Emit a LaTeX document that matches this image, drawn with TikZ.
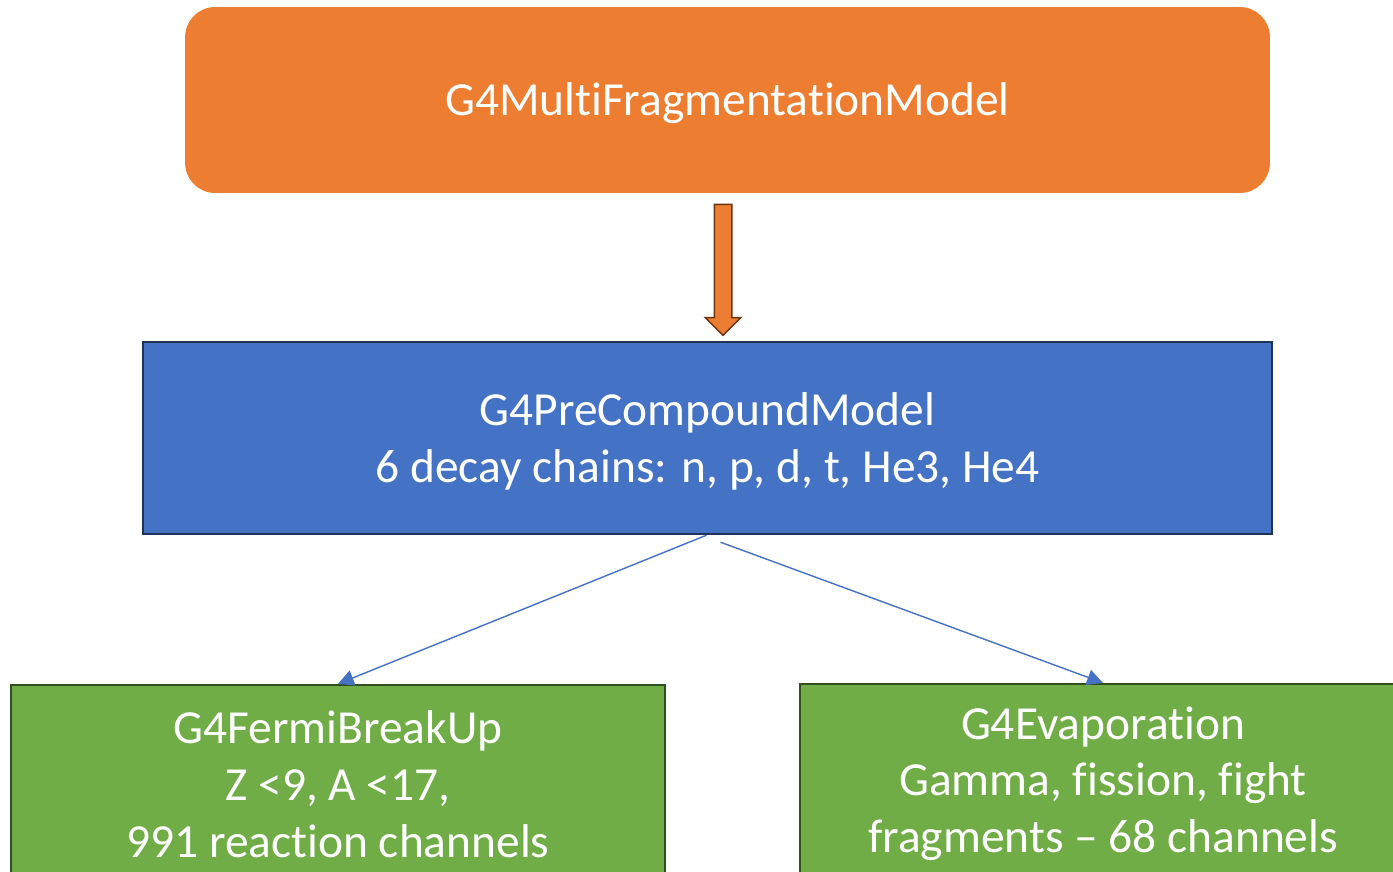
\documentclass[tikz,border=0pt]{standalone}
\usepackage{fontspec}
\setmainfont{Carlito}[RawFeature={-liga;-clig;-calt;-dlig}]
\usetikzlibrary{shapes.arrows,arrows.meta,calc}

\definecolor{modelorange}{HTML}{ED7D31}
\definecolor{arrowbrown}{HTML}{6B3410}
\definecolor{precblue}{HTML}{4472C4}
\definecolor{precborder}{HTML}{1F3356}
\definecolor{stagegreen}{HTML}{70AD47}
\definecolor{stageborder}{HTML}{2F4F1E}

% a little extra room above the first line, as the slides set it
\newcommand\linelift{\rule{0pt}{0.8cm}}

\tikzset{
  modelbox/.style={text=white, align=center, inner sep=0pt,
    font=\fontsize{27}{32.4}\selectfont},
  stagebox/.style={modelbox, fill=stagegreen, draw=stageborder, line width=1.3pt,
    minimum height=3.84cm},
  split/.style={draw=precblue, line width=0.8pt, -{Triangle[length=9pt,width=9pt]}}
}

\begin{document}
\begin{tikzpicture}[x=0.02cm,y=-0.02cm]
    \useasboundingbox (0,0) rectangle (1393,872);
    \clip (0,0) rectangle (1393,872);

    \node [modelbox, fill=modelorange, rounded corners=0.6cm,
      minimum width=21.7cm, minimum height=3.72cm] (mfm) at (727.5,100)
      {\linelift G4MultiFragmentationModel};

    \node [single arrow, fill=modelorange, draw=arrowbrown, line width=0.85pt,
      rotate=-90, minimum height=2.62cm, inner xsep=0pt, inner ysep=0.16cm,
      single arrow head extend=0.18cm] (down) at (723,265.5) {};

    \node [modelbox, fill=precblue, draw=precborder, line width=1.4pt,
      minimum width=22.58cm, minimum height=3.84cm] (pcm) at (707.5,438)
      {\linelift G4PreCompoundModel\\6 decay chains: n, p, d, t, He3, He4};

    \node [stagebox, minimum width=13.08cm] (fbu) at (338,781)
      {\linelift G4FermiBreakUp\\Z <9, A <17,\\991 reaction channels};
    \node [stagebox, minimum width=12.12cm] (evap) at (1103,780)
      {\linelift G4Evaporation\\Gamma, fission, fight\\fragments – 68 channels};

    \draw [split] ($(pcm.south)+(-1,0)$) -- (fbu.north);
    \draw [split] ($(pcm.south)+(13,7)$) -- (evap.north);
\end{tikzpicture}
\end{document}
